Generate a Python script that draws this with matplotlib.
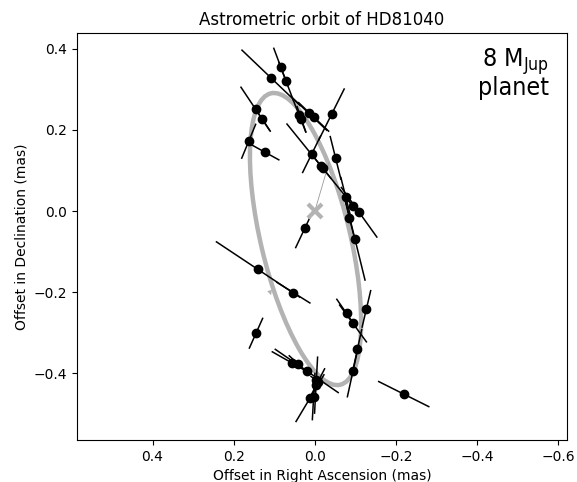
import matplotlib
matplotlib.use("Agg")
import matplotlib.pyplot as plt
import numpy as np
from matplotlib.patches import Ellipse

# epoch positions (mas), error half-length (mas) and scan angle (deg, data frame)
ra = [0.108, 0.084, 0.071, 0.039, 0.033, 0.015, 0.003, 0.146, 0.131, 0.163,
      0.123, -0.041, 0.008, -0.015, -0.020, -0.051, -0.076, -0.093, -0.109, -0.085,
      -0.099, 0.025, 0.140, 0.053, 0.145, -0.078, -0.094, -0.127, -0.105, -0.094,
      -0.219, 0.057, 0.041, 0.020, -0.003, -0.008, -0.003, 0.012, 0.003]
dec = [0.328, 0.355, 0.320, 0.237, 0.226, 0.241, 0.232, 0.251, 0.228, 0.172,
       0.145, 0.238, 0.140, 0.111, 0.105, 0.131, 0.035, 0.012, -0.003, -0.017,
       -0.070, -0.043, -0.144, -0.201, -0.301, -0.252, -0.277, -0.241, -0.340, -0.394,
       -0.451, -0.374, -0.377, -0.394, -0.416, -0.420, -0.429, -0.461, -0.457]
err = [0.099, 0.049, 0.049, 0.045, 0.033, 0.061, 0.051, 0.065, 0.035, 0.045,
       0.039, 0.070, 0.050, 0.133, 0.031, 0.054, 0.049, 0.030, 0.075, 0.049,
       0.103, 0.052, 0.123, 0.048, 0.040, 0.042, 0.056, 0.046, 0.049, 0.065,
       0.069, 0.055, 0.030, 0.094, 0.015, 0.035, 0.069, 0.067, 0.057]
scan = [43.7, 69.5, 69.1, 68.5, 71.0, 43.4, 43.6, 56.3, 56.3, -67.6,
        28.8, -63.5, -63.8, 51.0, 51.0, 76.0, 76.0, 51.5, 54.4, 76.0,
        76.2, -64.7, 33.6, 32.0, -65.9, 55.3, 53.9, -76.8, -77.8, -77.7,
        26.6, 29.6, 42.7, 34.5, 34.0, -62.9, -86.9, -59.1, -86.8]

# orbit (photocentre) ellipse
orb_center = (0.023, -0.069)
orb_a = 0.369
orb_b = 0.110
orb_tilt = -13.4
peri = (-0.035, 0.12)
arrow_pos = (0.106, -0.214)

fig = plt.figure(figsize=(5.77, 4.82), dpi=100)
ax = fig.add_axes([0.1335, 0.0871, 0.849, 0.844])

ax.add_patch(Ellipse(orb_center, 2 * orb_b, 2 * orb_a, angle=orb_tilt,
                     fill=False, edgecolor="0.7", lw=3.2, zorder=1))
ax.plot([0, peri[0]], [0, peri[1]], color="0.6", lw=0.6, zorder=1)
ax.annotate("", xy=arrow_pos, xytext=(arrow_pos[0] + 0.006, arrow_pos[1] + 0.02),
            arrowprops=dict(arrowstyle="-|>", color="0.7", lw=0, mutation_scale=9),
            zorder=1)

for x, y, e, a in zip(ra, dec, err, scan):
    dx = e * np.cos(np.radians(a))
    dy = e * np.sin(np.radians(a))
    ax.plot([x - dx, x + dx], [y - dy, y + dy], color="black", lw=1.1, zorder=2)
ax.plot(ra, dec, "o", color="black", ms=6, zorder=3)
ax.plot(0, 0, "x", color="0.7", ms=10, mew=3, zorder=4)

ax.set_xlim(0.586, -0.621)
ax.set_ylim(-0.564, 0.438)
ax.set_aspect("equal")
ax.set_xticks([0.4, 0.2, 0.0, -0.2, -0.4, -0.6])
ax.set_yticks([0.4, 0.2, 0.0, -0.2, -0.4])
ax.set_title("Astrometric orbit of HD81040")
ax.set_xlabel("Offset in Right Ascension (mas)")
ax.set_ylabel("Offset in Declination (mas)")

plt.rcParams["mathtext.fontset"] = "custom"
plt.rcParams["mathtext.rm"] = "DejaVu Sans:stretch=condensed"
ax.text(0.963, 0.968, "8 M$_{\\rm Jup}$\nplanet", transform=ax.transAxes,
        ha="right", va="top", fontsize=18, linespacing=0.95,
        family="DejaVu Sans", fontstretch="condensed")

fig.savefig("out.png", dpi=100)
